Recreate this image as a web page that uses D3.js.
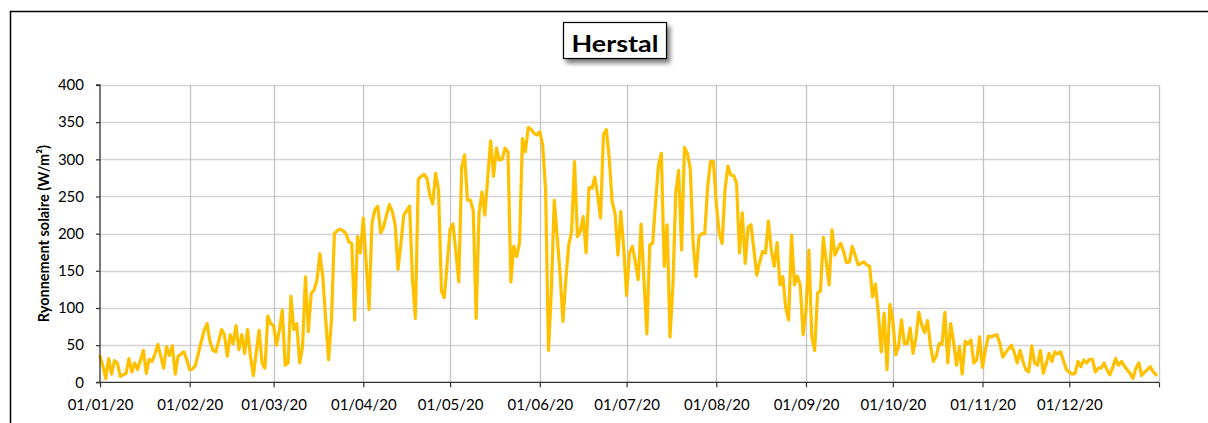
<!DOCTYPE html>
<html><head><meta charset="utf-8">
<script src="https://cdn.jsdelivr.net/npm/d3@7"></script>
<style>
html,body{margin:0;padding:0;background:#fff;}
svg{display:block;}
text{font-family:Lato,"Open Sans",sans-serif;}
</style></head>
<body>
<svg id="chart" width="1208" height="423"></svg>
<script>
const title = "Herstal";
const yTitle = "Ryonnement solaire (W/m²)";
const startDate = "2020-01-01";
const endDate = "2021-01-01";
const monthTicks = ["2020-01-01","2020-02-01","2020-03-01","2020-04-01","2020-05-01","2020-06-01","2020-07-01","2020-08-01","2020-09-01","2020-10-01","2020-11-01","2020-12-01","2021-01-01"];
const yTicks = [0,50,100,150,200,250,300,350,400];
// daily solar radiation (W/m²), one value per day of 2020
const radiation = [
35,22,5,32,11,29,26,8,10,12,32,14,26,17,30,43,12,31,28,38,51,35,19,48,36,49,11,35,38,41,
30,17,18,23,39,55,70,79,55,43,41,55,71,64,35,64,52,76,44,64,39,71,35,9,40,70,26,19,89,79,
76,50,70,97,23,26,116,71,79,26,48,142,68,120,124,138,173,142,85,30,84,200,204,206,204,200,189,187,84,196,
174,221,160,98,214,232,237,201,209,225,239,230,212,152,187,225,231,237,138,86,273,277,280,274,252,240,281,259,123,114,
160,206,213,175,135,289,306,245,245,231,86,227,256,225,275,325,277,315,299,300,315,310,135,183,169,188,328,310,343,340,
335,333,337,319,259,43,124,245,196,147,82,138,185,203,297,196,203,223,174,262,261,276,252,221,333,340,301,243,227,171,
230,180,117,174,183,162,138,213,138,65,185,187,241,292,308,156,212,61,129,256,285,178,316,308,288,187,142,196,200,200,
263,297,297,241,200,187,259,291,279,278,268,174,228,160,209,212,178,144,162,176,174,217,178,156,188,131,142,100,84,198,
131,143,131,64,97,178,61,43,120,123,195,162,131,205,171,180,187,176,161,162,183,171,158,160,162,158,156,115,132,93,
41,93,17,105,84,37,48,84,52,52,73,39,60,94,77,67,83,50,28,35,52,51,94,26,79,55,23,48,11,55,
52,57,26,30,61,20,43,62,61,63,64,52,34,40,45,50,40,26,43,28,17,14,49,26,23,43,12,25,39,28,
41,38,41,29,17,14,11,12,28,21,30,26,31,31,14,19,19,26,17,10,20,32,23,28,22,17,12,5,19,26,
9,14,17,21,14,10
];

const svg = d3.select("#chart");
const parse = d3.utcParse("%Y-%m-%d");
const t0 = parse(startDate);
const dates = radiation.map((v,i) => d3.utcDay.offset(t0, i));

const x = d3.scaleUtc().domain([t0, parse(endDate)]).range([100, 1159]);
const y = d3.scaleLinear().domain([0, 400]).range([382.3, 85]);

// outer frame (partially visible)
svg.append("path").attr("d","M10.5,423 V11.5 H1208").attr("fill","none").attr("stroke","#000").attr("stroke-width",1.5);

// horizontal gridlines
svg.append("g").selectAll("line").data(yTicks.filter(d=>d>0)).join("line")
  .attr("x1", x.range()[0]).attr("x2", x.range()[1])
  .attr("y1", d=>Math.round(y(d))+0.5).attr("y2", d=>Math.round(y(d))+0.5)
  .attr("stroke","#d3d3d3").attr("stroke-width",1.3);

// vertical gridlines
const mt = monthTicks.map(parse);
svg.append("g").selectAll("line").data(mt.slice(1)).join("line")
  .attr("x1", d=>Math.round(x(d))+0.5).attr("x2", d=>Math.round(x(d))+0.5)
  .attr("y1", y(400)).attr("y2", y(0))
  .attr("stroke","#c4c4c4").attr("stroke-width",1.3);

// line
const line = d3.line().x((d,i)=>x(dates[i])).y(d=>y(d)).curve(d3.curveLinear);
svg.append("path").datum(radiation).attr("d", line)
  .attr("fill","none").attr("stroke","#FFC000").attr("stroke-width",3.2)
  .attr("stroke-linejoin","round").attr("stroke-linecap","round");

// y axis
const yAxis = d3.axisLeft(y).tickValues(yTicks).tickSize(4).tickPadding(12).tickFormat(d3.format("d"));
const gy = svg.append("g").attr("transform","translate(100,0)").call(yAxis);
gy.select(".domain").attr("stroke","#333").attr("stroke-width",1.3).attr("d", `M-4,${y(0)}H0V${y(400)}H-4`);
gy.selectAll(".tick line").attr("stroke","#333").attr("stroke-width",1.2);
gy.selectAll("text").attr("font-size",15).attr("fill","#000").attr("font-family","Lato");

// x axis
const xAxis = d3.axisBottom(x).tickValues(mt).tickSize(5).tickPadding(12)
  .tickFormat(d => d < parse(endDate) ? d3.utcFormat("%d/%m/%y")(d) : "");
const gx = svg.append("g").attr("transform",`translate(0,${y(0)})`).call(xAxis);
gx.select(".domain").attr("stroke","#333").attr("stroke-width",1.3).attr("d", `M${x.range()[0]},0H${x.range()[1]}`);
gx.selectAll(".tick line").attr("stroke","#333").attr("stroke-width",1.2);
gx.selectAll("text").attr("font-size",15).attr("fill","#000").attr("font-family","Lato");

// y title
svg.append("text").attr("transform",`translate(49,${(y(0)+y(400))/2}) rotate(-90)`)
  .attr("text-anchor","middle").attr("font-size",14.5).attr("font-weight","bold").attr("fill","#000")
  .text(yTitle);

// title box with shadow
const defs = svg.append("defs");
const f = defs.append("filter").attr("id","sh").attr("x","-20%").attr("y","-30%").attr("width","150%").attr("height","180%");
f.append("feGaussianBlur").attr("in","SourceAlpha").attr("stdDeviation",2.5);
f.append("feOffset").attr("dx",3).attr("dy",4).attr("result","ob");
f.append("feComponentTransfer").append("feFuncA").attr("type","linear").attr("slope",0.55);
const m = f.append("feMerge"); m.append("feMergeNode"); m.append("feMergeNode").attr("in","SourceGraphic");
svg.append("rect").attr("x",563.5).attr("y",22.5).attr("width",103).attr("height",36)
  .attr("fill","#fff").attr("stroke","#000").attr("stroke-width",1.2).attr("filter","url(#sh)");
svg.append("text").attr("x",615).attr("y",51.5).attr("text-anchor","middle")
  .attr("font-size",22).attr("font-weight","bold").attr("fill","#000")
  .attr("textLength",87).attr("lengthAdjust","spacingAndGlyphs").text(title);
</script>
</body></html>
